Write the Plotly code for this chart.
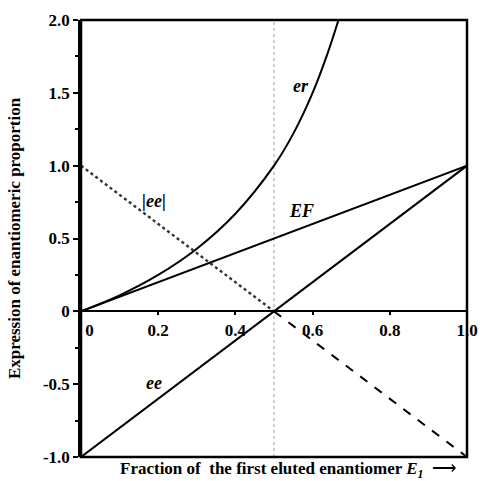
import plotly.graph_objects as go

# er curve
er_x = [0.0, 0.1, 0.2, 0.3, 0.4, 0.5, 0.55, 0.6, 0.64, 0.667]
er_y = [0.0, 0.11, 0.25, 0.43, 0.67, 1.0, 1.22, 1.5, 1.78, 2.0]
# EF line
ef_x = [0.0, 1.0]
ef_y = [0.0, 1.0]
# ee line
ee_x = [0.0, 1.0]
ee_y = [-1.0, 1.0]
# |ee| (dotted part) and its continuation (dashed part)
abs_ee_x = [0.0, 0.5]
abs_ee_y = [1.0, 0.0]
neg_x = [0.5, 1.0]
neg_y = [0.0, -1.0]

x_ticks = [0, 0.2, 0.4, 0.6, 0.8, 1.0]
x_ticktext = ["\u2002\u20020", "0.2", "0.4", "0.6", "0.8", "1.0"]
y_ticks = [-1.0, -0.5, 0, 0.5, 1.0, 1.5, 2.0]
y_ticktext = ["-1.0", "-0.5", "0", "0.5", "1.0", "1.5", "2.0"]

fig = go.Figure()
line_style = dict(color="black", width=2)
fig.add_trace(go.Scatter(x=[0.5, 0.5], y=[-1, 2], mode="lines",
                         line=dict(color="#b0b0b0", width=1.2, dash="dot"), hoverinfo="skip"))
fig.add_trace(go.Scatter(x=er_x, y=er_y, mode="lines", line=dict(color="black", width=2, shape="spline")))
fig.add_trace(go.Scatter(x=ef_x, y=ef_y, mode="lines", line=line_style))
fig.add_trace(go.Scatter(x=ee_x, y=ee_y, mode="lines", line=line_style))
fig.add_trace(go.Scatter(x=abs_ee_x, y=abs_ee_y, mode="lines",
                         line=dict(color="#333333", width=2.4, dash="dot")))
fig.add_trace(go.Scatter(x=neg_x, y=neg_y, mode="lines",
                         line=dict(color="black", width=2, dash="dash")))

tick_font = dict(family="Liberation Serif", size=17, color="black", weight="bold")

fig.update_layout(
    width=480, height=481,
    margin=dict(l=81, r=13, t=20, b=24, autoexpand=False),
    plot_bgcolor="white", paper_bgcolor="white",
    showlegend=False,
    xaxis=dict(range=[0, 1], anchor="free", position=1/3, automargin=False,
               showline=True, linewidth=2, linecolor="black",
               tickvals=x_ticks, ticktext=x_ticktext,
               ticks="outside", ticklen=3, tickwidth=2, tickcolor="black",
               tickfont=tick_font, showgrid=False, zeroline=False),
    yaxis=dict(range=[-1, 2], domain=[0, 1], automargin=False,
               showline=True, linewidth=2.5, linecolor="black",
               tickvals=y_ticks, ticktext=y_ticktext,
               ticks="outside", ticklen=5, tickwidth=2, tickcolor="black",
               minor=dict(tickvals=[-0.75, -0.25, 0.25, 0.75, 1.25, 1.75],
                          ticks="outside", ticklen=3, tickwidth=1.5, tickcolor="black"),
               tickfont=tick_font, showgrid=False, zeroline=False),
)

fig.add_shape(type="rect", x0=0, x1=1, y0=0, y1=1, xref="paper", yref="paper",
              line=dict(color="black", width=2.5), layer="above")

lab_font = dict(family="Liberation Serif", size=18, color="black")
for txt, x, y in [("<b><i>er</i></b>", 0.570, 1.55),
                  ("<b><i>EF</i></b>", 0.572, 0.69),
                  ("<b><i>|ee|</i></b>", 0.189, 0.76),
                  ("<b><i>ee</i></b>", 0.189, -0.49)]:
    fig.add_annotation(x=x, y=y, text=txt, showarrow=False, font=lab_font)

fig.add_annotation(xref="paper", yref="paper", x=0.095, xanchor="left", y=-0.029, yanchor="middle",
                   text="<b>Fraction of  the first eluted enantiomer <i>E<sub>1</sub></i></b>  \u27f6",
                   showarrow=False, font=dict(family="Liberation Serif", size=17, color="black"))
fig.add_annotation(xref="paper", yref="paper", x=-0.172, xanchor="center", y=0.5, yanchor="middle",
                   textangle=-90,
                   text="<b>Expression of enantiomeric proportion</b>",
                   showarrow=False, font=dict(family="Liberation Serif", size=17, color="black"))

fig.write_html("out.html", config={"displayModeBar": False},
               post_script="document.body.style.margin='0';document.body.style.overflow='hidden';")
